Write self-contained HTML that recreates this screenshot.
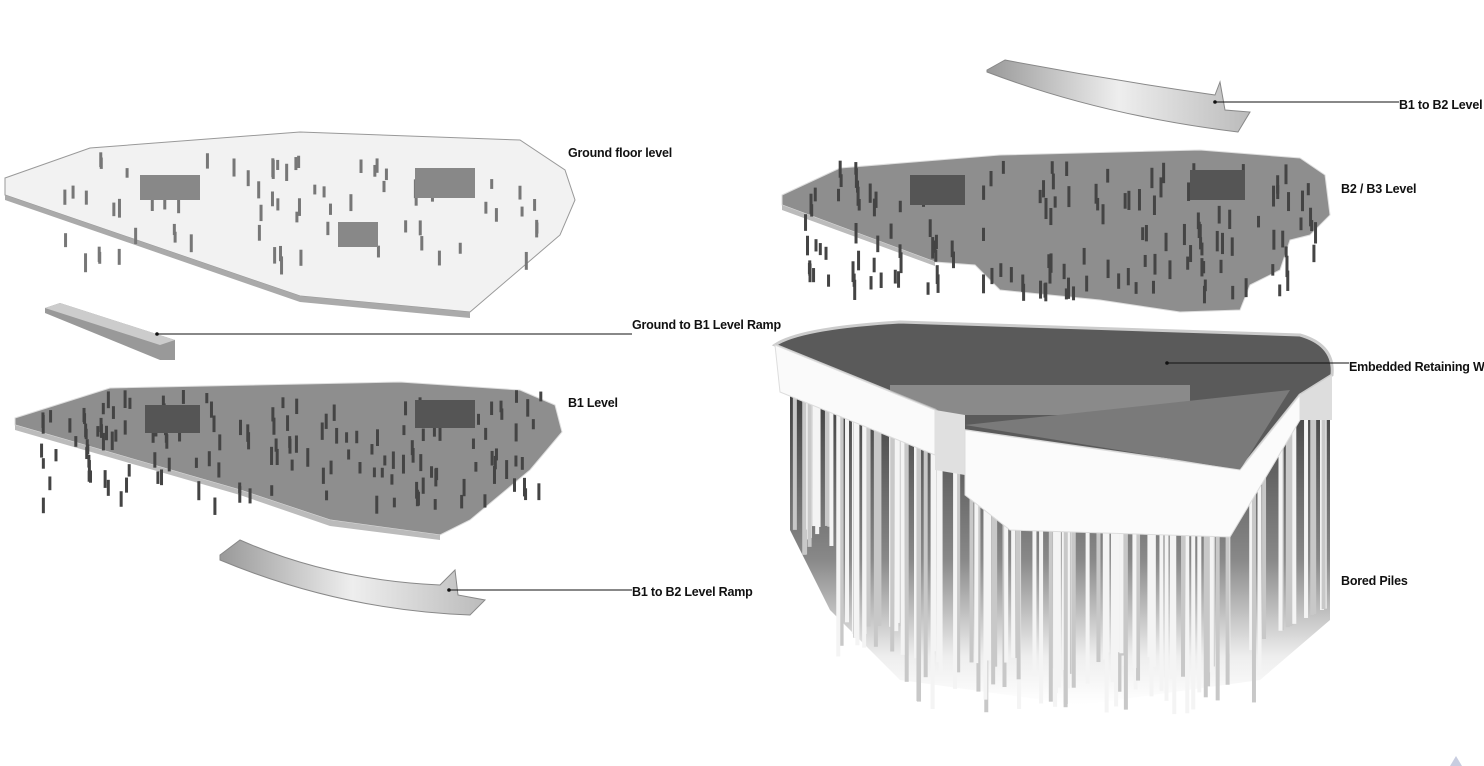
<!DOCTYPE html>
<html><head><meta charset="utf-8"><style>
html,body{margin:0;padding:0;background:#fff;width:1484px;height:766px;overflow:hidden}
svg{display:block}
text{font-family:"Liberation Sans",sans-serif;font-weight:bold;font-size:12.5px;fill:#111;letter-spacing:-0.2px}
</style></head><body>
<svg id="s" width="1484" height="766" viewBox="0 0 1484 766" xmlns="http://www.w3.org/2000/svg">
<defs>
<linearGradient id="pg" x1="0" y1="0" x2="0" y2="1"><stop offset="0" stop-color="#3a3a3a"/><stop offset="0.55" stop-color="#888"/><stop offset="0.85" stop-color="#eee"/><stop offset="1" stop-color="#fff"/></linearGradient>
<linearGradient id="rg" x1="0" y1="0" x2="1" y2="0"><stop offset="0" stop-color="#999"/><stop offset="0.5" stop-color="#eee"/><stop offset="1" stop-color="#bbb"/></linearGradient>
</defs>
<polygon points="5,178 90,148 300,132 520,140 565,170 575,200 560,235 470,312 300,296 5,195" fill="#f2f2f2" stroke="#999" stroke-width="1"/>
<polygon points="5,195 300,296 470,312 470,318 300,302 5,200" fill="#aaa"/>
<g id="gf"></g>
<polygon points="45,308 60,303 175,340 175,360 160,360 45,313" fill="#999"/>
<polygon points="45,308 60,303 175,340 160,345" fill="#ccc"/>
<polygon points="15,418 110,388 400,382 520,390 555,405 562,432 530,470 470,520 440,535 330,520 240,490 15,425" fill="#8e8e8e" stroke="#ddd"/>
<polygon points="15,425 240,490 330,520 440,535 440,540 330,526 240,495 15,430" fill="#bbb"/>
<g id="b1"></g>
<path d="M220,555 L240,540 Q330,580 440,585 L455,570 L458,595 L485,600 L470,615 Q340,610 220,560 Z" fill="url(#rg)" stroke="#888"/>
<path d="M987,70 L1005,60 Q1110,80 1215,95 L1220,82 L1225,110 L1250,112 L1238,132 Q1100,115 987,72 Z" fill="url(#rg)" stroke="#888"/>
<polygon points="782,195 840,168 1000,155 1200,150 1300,158 1325,175 1330,215 1310,235 1290,240 1280,270 1250,285 1240,310 1180,312 1100,300 1000,290 975,265 935,262 782,205" fill="#8e8e8e" stroke="#ddd"/>
<polygon points="782,205 935,262 935,266 782,210" fill="#bbb"/>
<g id="b2"></g>
<polygon points="790,380 935,440 1240,470 1330,390 1330,620 1260,680 1080,705 900,680 830,610 790,530" fill="url(#pg)"/>
<g id="pl"></g>
<path d="M775,345 Q800,328 900,322 L1300,335 Q1335,345 1332,375 L1300,395 L1240,470 L960,430 L935,410 Z" fill="#5a5a5a" stroke="#ccc" stroke-width="3"/>
<rect x="890" y="385" width="300" height="30" fill="#aaa" opacity="0.6"/>
<polygon points="965,425 1290,390 1240,470" fill="#7a7a7a"/>
<polygon points="775,345 935,410 935,455 780,392" fill="#fafafa" stroke="#ddd"/>
<polygon points="935,410 965,415 965,475 935,470" fill="#e0e0e0"/>
<polygon points="965,430 1240,470 1300,395 1300,420 1230,537 1010,530 965,495" fill="#fbfbfb" stroke="#ddd"/>
<polygon points="1300,395 1332,375 1332,420 1300,420" fill="#ddd"/>
<g stroke="#111" stroke-width="1">
<line x1="157" y1="334" x2="632" y2="334"/>
<line x1="449" y1="590" x2="632" y2="590"/>
<line x1="1215" y1="102" x2="1399" y2="102"/>
<line x1="1167" y1="363" x2="1349" y2="363"/>
</g>
<g fill="#111"><circle cx="157" cy="334" r="1.8"/><circle cx="449" cy="590" r="1.8"/><circle cx="1215" cy="102" r="1.8"/><circle cx="1167" cy="363" r="1.8"/></g>
<text x="568" y="157">Ground floor level</text>
<text x="632" y="329">Ground to B1 Level Ramp</text>
<text x="568" y="407">B1 Level</text>
<text x="632" y="596">B1 to B2 Level Ramp</text>
<text x="1399" y="109">B1 to B2 Level</text>
<text x="1341" y="193">B2 / B3 Level</text>
<text x="1349" y="371">Embedded Retaining Wall</text>
<text x="1341" y="585">Bored Piles</text>
<polygon points="1450,766 1456,756 1462,766" fill="#c8cde0"/>
</svg>
<script>
(function(){
var ns="http://www.w3.org/2000/svg",seed=7;function r(){seed=(seed*9301+49297)%233280;return seed/233280;}
function add(g,tag,a){var e=document.createElementNS(ns,tag);for(var k in a)e.setAttribute(k,a[k]);document.getElementById(g).appendChild(e);}
function cols(g,x0,x1,y0,y1,n,c,h){for(var i=0;i<n;i++){var x=x0+r()*(x1-x0),y=y0+r()*(y1-y0);add(g,"rect",{x:x,y:y,width:3,height:h*(0.6+r()*0.6),fill:c});}}
cols("gf",60,540,150,260,70,"#777",16);
add("gf","rect",{x:140,y:175,width:60,height:25,fill:"#888"});add("gf","rect",{x:415,y:168,width:60,height:30,fill:"#888"});add("gf","rect",{x:338,y:222,width:40,height:25,fill:"#888"});
cols("b1",40,540,390,500,150,"#444",16);
add("b1","rect",{x:145,y:405,width:55,height:28,fill:"#555"});add("b1","rect",{x:415,y:400,width:60,height:28,fill:"#555"});
cols("b2",800,1320,160,290,150,"#444",18);
add("b2","rect",{x:910,y:175,width:55,height:30,fill:"#555"});add("b2","rect",{x:1190,y:170,width:55,height:30,fill:"#555"});
for(var i=0;i<130;i++){var x=792+r()*535;var t=x<935?395+(x-790)*0.4:(x<1240?450:470-(x-1240)*0.9);var b=x<830?525+r()*30:(x<900?620+r()*40:(x<1260?650+r()*65:640-(x-1260)*0.5));add("pl","rect",{x:x,y:t,width:4,height:Math.max(20,b-t),fill:(r()>0.4?"#f4f4f4":"#c8c8c8")});}
})();
</script>
</body></html>
